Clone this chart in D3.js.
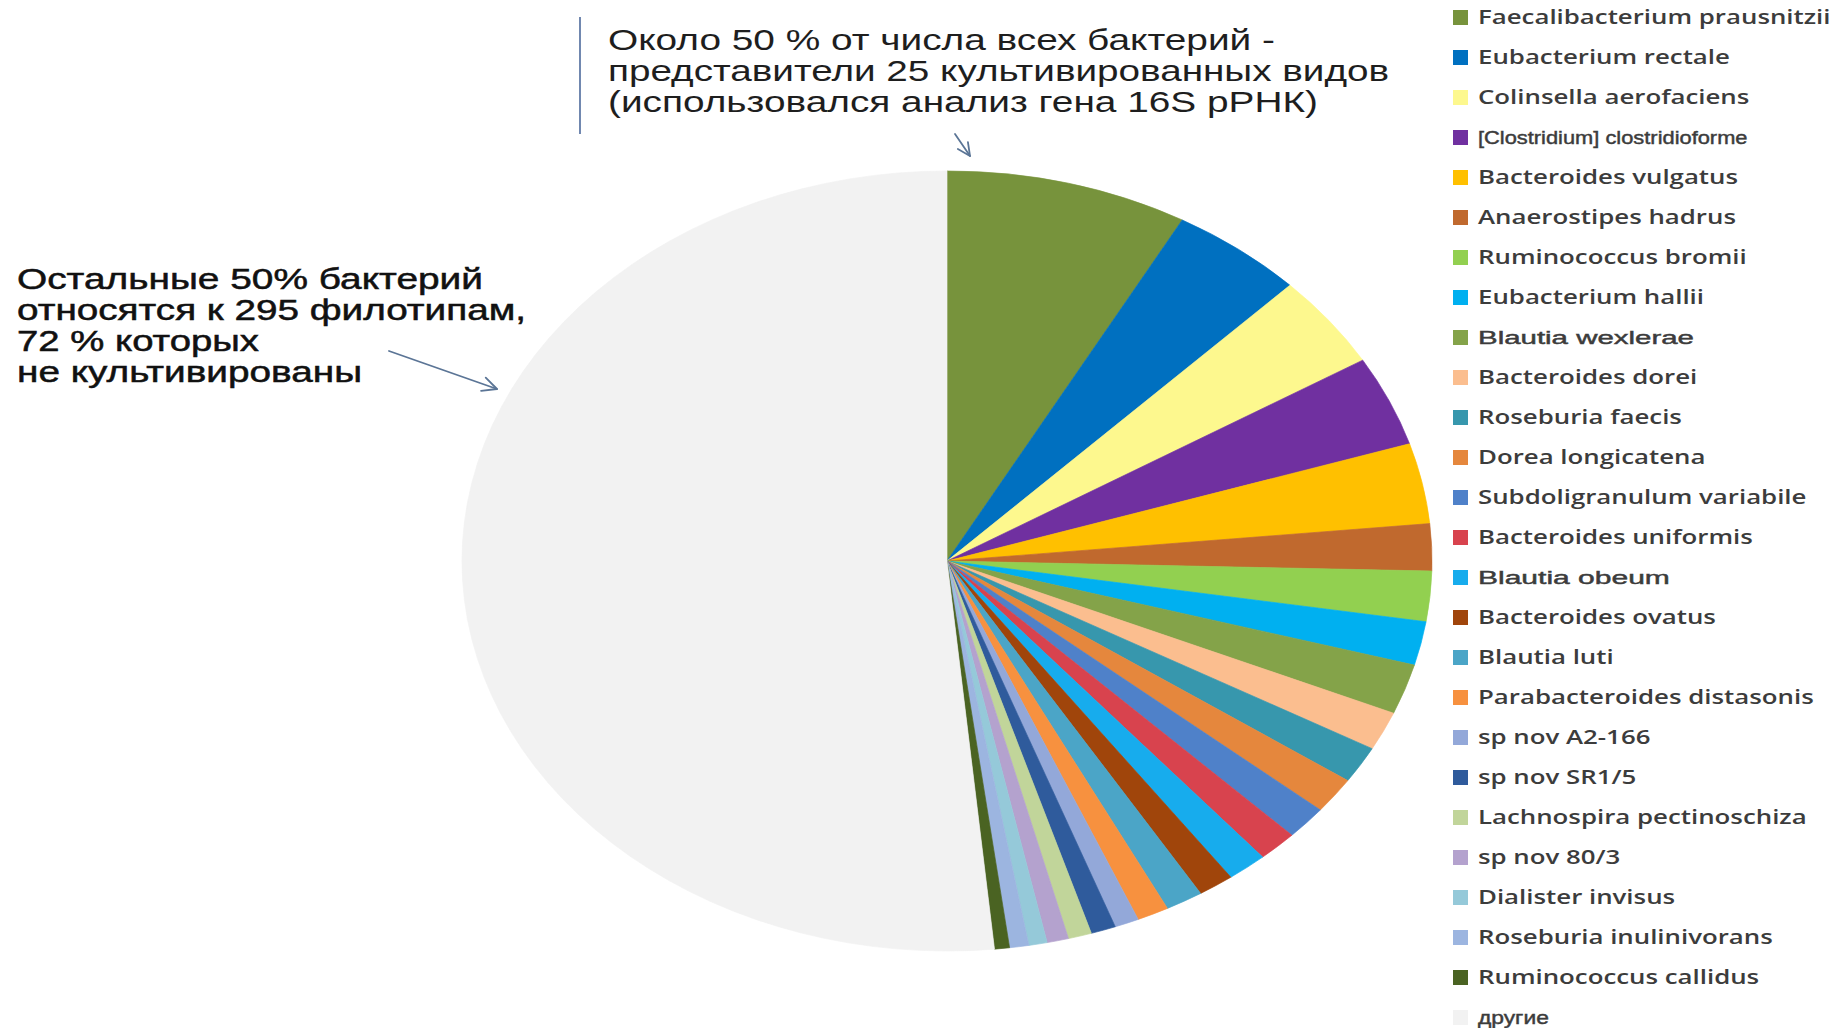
<!DOCTYPE html>
<html>
<head>
<meta charset="utf-8">
<script src="https://cdn.jsdelivr.net/npm/d3@7"></script>
<style>
  body { margin: 0; background: #ffffff; }
  svg { display: block; }
</style>
</head>
<body>
<svg id="chart" width="1834" height="1028"></svg>
<script>
// Species of the gut microbiota, in the order they are laid out clockwise from 12 o'clock
const species = [
  "Faecalibacterium prausnitzii",
  "Eubacterium rectale",
  "Colinsella aerofaciens",
  "[Clostridium] clostridioforme",
  "Bacteroides vulgatus",
  "Anaerostipes hadrus",
  "Ruminococcus bromii",
  "Eubacterium hallii",
  "Blautia wexlerae",
  "Bacteroides dorei",
  "Roseburia faecis",
  "Dorea longicatena",
  "Subdoligranulum variabile",
  "Bacteroides uniformis",
  "Blautia obeum",
  "Bacteroides ovatus",
  "Blautia luti",
  "Parabacteroides distasonis",
  "sp nov A2-166",
  "sp nov SR1/5",
  "Lachnospira pectinoschiza",
  "sp nov 80/3",
  "Dialister invisus",
  "Roseburia inulinivorans",
  "Ruminococcus callidus",
  "другие"
];

// Share of all bacteria, %
const shares = [
  8.06, 4.44, 3.89, 3.75, 3.33, 1.94, 2.08, 1.81, 2.08, 1.61,
  1.53, 1.50, 1.39, 1.31, 1.33, 1.19, 1.25, 1.06, 0.81, 0.83,
  0.78, 0.72, 0.61, 0.64, 0.50, 51.56
];

const sliceColors = [
  "#77933c", "#0070c0", "#fdf88e", "#7030a0", "#ffc000", "#c0692e",
  "#92d050", "#00b0f0", "#84a349", "#fbbe8f", "#3797ad", "#e5873d",
  "#4f81c9", "#d8434e", "#17aced", "#a0450b", "#4ba5c7", "#f7913f",
  "#93a8d9", "#2f5b9c", "#c1d59a", "#b4a2ce", "#95c9d9", "#9cb5e0",
  "#4a6322", "#f2f2f2"
];

// Entries whose legend text is set in a narrower face, with their horizontal stretch
const narrowLegend = new Map([
  ["[Clostridium] clostridioforme", 1.15],
  ["Blautia wexlerae", 1.55],
  ["Blautia obeum", 1.58],
  ["другие", 1.2]
]);
const legendStretch = 1.36;

const topNote = [
  "Около 50 % от числа всех бактерий -",
  "представители 25 культивированных видов",
  "(использовался анализ гена 16S рРНК)"
];
const sideNote = [
  "Остальные 50% бактерий",
  "относятся к 295 филотипам,",
  "72 % которых",
  "не культивированы"
];

const svg = d3.select("#chart");

// ---- pie (stretched horizontally into an ellipse) ----
const cx = 947, cy = 561, ry = 390, rx = 485;
const data = species.map((name, i) => ({ name, value: shares[i] }));
const color = d3.scaleOrdinal().domain(species).range(sliceColors);

const pie = d3.pie().sort(null).value(d => d.value).startAngle(0).endAngle(2 * Math.PI);
const arc = d3.arc().innerRadius(0).outerRadius(ry);

svg.append("g")
  .attr("transform", `translate(${cx},${cy}) scale(${rx / ry},1)`)
  .selectAll("path")
  .data(pie(data))
  .join("path")
  .attr("d", arc)
  .attr("fill", d => color(d.data.name))
  .attr("stroke", d => color(d.data.name))
  .attr("stroke-width", 0.6);

// ---- legend ----
const legendY = d3.scalePoint().domain(species).range([17.5, 1017.5]);
const legend = svg.append("g");
const item = legend.selectAll("g")
  .data(species)
  .join("g")
  .attr("transform", d => `translate(1453,${legendY(d)})`);

item.append("rect")
  .attr("x", 0).attr("y", -7.5)
  .attr("width", 15).attr("height", 15)
  .attr("fill", d => color(d));

item.append("text")
  .attr("transform", d => `translate(25,0) scale(${narrowLegend.has(d) ? narrowLegend.get(d) : legendStretch},1)`)
  .attr("dy", "0.36em")
  .attr("font-family", d => narrowLegend.has(d) ? "'Liberation Sans', Arial, sans-serif" : "'Open Sans', sans-serif")
  .attr("font-size", 19)
  .attr("font-weight", d => narrowLegend.has(d) ? 400 : 600)
  .attr("fill", "#3c3c3c")
  .attr("stroke", d => narrowLegend.has(d) ? "#3c3c3c" : "none")
  .attr("stroke-width", 0.45)
  .text(d => d);

// ---- annotations ----
const topWidths = [667, 781, 710];
svg.append("g")
  .selectAll("text")
  .data(topNote)
  .join("text")
  .attr("x", 608)
  .attr("y", (d, i) => 50 + i * 31)
  .attr("font-family", "'Liberation Sans', Arial, sans-serif")
  .attr("font-size", 30)
  .attr("fill", "#1e1e1e")
  .attr("textLength", (d, i) => topWidths[i])
  .attr("lengthAdjust", "spacingAndGlyphs")
  .text(d => d);

const sideWidths = [466, 509, 242, 345];
svg.append("g")
  .selectAll("text")
  .data(sideNote)
  .join("text")
  .attr("x", 17)
  .attr("y", (d, i) => 289 + i * 31)
  .attr("font-family", "'Liberation Sans', Arial, sans-serif")
  .attr("font-size", 29)
  .attr("fill", "#111111")
  .attr("stroke", "#111111")
  .attr("stroke-width", 0.5)
  .attr("textLength", (d, i) => sideWidths[i])
  .attr("lengthAdjust", "spacingAndGlyphs")
  .text(d => d);

// thin rule to the left of the upper note
svg.append("line")
  .attr("x1", 580).attr("y1", 17).attr("x2", 580).attr("y2", 134)
  .attr("stroke", "#4d6a9c").attr("stroke-width", 1.6);

// arrows with open heads
function arrow(x1, y1, x2, y2, head) {
  const a = Math.atan2(y2 - y1, x2 - x1);
  const g = svg.append("g")
    .attr("fill", "none").attr("stroke", "#5b7596").attr("stroke-width", 1.8)
    .attr("stroke-linecap", "round").attr("stroke-linejoin", "round");
  g.append("line").attr("x1", x1).attr("y1", y1).attr("x2", x2).attr("y2", y2);
  const p = d3.path();
  p.moveTo(x2 - head * Math.cos(a - 0.45), y2 - head * Math.sin(a - 0.45));
  p.lineTo(x2, y2);
  p.lineTo(x2 - head * Math.cos(a + 0.45), y2 - head * Math.sin(a + 0.45));
  g.append("path").attr("d", p.toString());
}
arrow(389, 351, 497, 389, 16);
arrow(955, 134, 970, 156, 14);
</script>
</body>
</html>
